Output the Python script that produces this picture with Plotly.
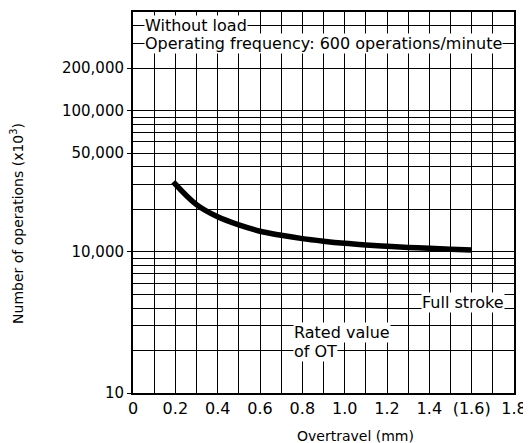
import math
import plotly.graph_objects as go

# Curve data
overtravel = [0.19, 0.3, 0.4, 0.5, 0.6, 0.7, 0.8, 0.9, 1.0, 1.1, 1.2, 1.3, 1.4, 1.5, 1.6]
operations = [31300, 21600, 17700, 15500, 14000, 13100, 12400, 11900, 11500, 11200,
              10950, 10750, 10600, 10450, 10300]

# Axis ticks
x_tickvals = [0, 0.2, 0.4, 0.6, 0.8, 1.0, 1.2, 1.4, 1.6, 1.8]
x_ticktext = ["0", "0.2", "0.4", "0.6", "0.8", "1.0", "1.2", "1.4", "(1.6)", "1.8"]
x_gridvals = [i / 10 for i in range(0, 19)]

y_tickvals = [1000, 10000, 50000, 100000, 200000]
y_ticktext = ["10", "10,000", "50,000", "100,000", "200,000"]
y_gridvals = ([m * 1000 for m in range(1, 10)] + [m * 10000 for m in range(1, 10)]
              + [m * 100000 for m in range(1, 6)])

FONT = "DejaVu Sans"
L = math.log10

fig = go.Figure()
fig.add_trace(go.Scatter(
    x=overtravel, y=operations, mode="lines",
    line=dict(color="black", width=5.5, shape="spline", smoothing=1.0),
    showlegend=False, hoverinfo="skip",
))

grid = dict(color="black", width=1.3)


def label(text, x, y, anchor):
    return dict(text=text, x=x, y=L(y), xref="x", yref="y",
                xanchor=anchor, yanchor="middle", showarrow=False,
                bgcolor="white", borderpad=0, font=dict(size=16, family=FONT))


fig.update_layout(
    width=523, height=435,
    margin=dict(l=125, r=17, t=2, b=50),
    paper_bgcolor="white", plot_bgcolor="white",
    font=dict(family=FONT, color="black"),
    xaxis=dict(
        range=[0, 1.8], tickmode="array", tickvals=x_tickvals, ticktext=x_ticktext,
        tickfont=dict(size=16, family=FONT, color="black"),
        showgrid=False, zeroline=False,
        showline=True, linecolor="black", linewidth=2, mirror=True,
        ticks="", ticklabelstandoff=0,
        minor=dict(tickmode="array", tickvals=x_gridvals, showgrid=True,
                   gridcolor=grid["color"], gridwidth=grid["width"], ticks=""),
    ),
    yaxis=dict(
        type="log", range=[3, 5.69897],
        tickmode="array", tickvals=y_tickvals, ticktext=y_ticktext,
        tickfont=dict(size=15, family=FONT, color="black"),
        showgrid=True, gridcolor="black", gridwidth=1.3, zeroline=False,
        showline=True, linecolor="black", linewidth=2, mirror=True,
        ticks="outside", ticklen=4, tickcolor="black", tickwidth=1.3,
        minor=dict(tickmode="array", tickvals=y_gridvals, showgrid=True,
                   gridcolor=grid["color"], gridwidth=grid["width"], ticks=""),
    ),
    annotations=[
        label("Without load", 0.05, 400000, "left"),
        label("Operating frequency: 600 operations/minute", 0.05, 300000, "left"),
        label("Full stroke", 1.757, 4400, "right"),
        label("Rated value", 0.756, 2667, "left"),
        label("of OT", 0.756, 1960, "left"),
        dict(text="Overtravel (mm)", x=(355 - 133) / 381, y=-43 / 383,
             xref="paper", yref="paper", xanchor="center", yanchor="middle",
             showarrow=False, font=dict(size=14, family=FONT)),
        dict(text="Number of operations (x10<sup>3</sup>)", x=(17 - 133) / 381,
             y=(393 - 223) / 383, xref="paper", yref="paper", xanchor="center",
             yanchor="middle", textangle=-90, showarrow=False,
             font=dict(size=14, family=FONT)),
    ],
)

fig.write_html("out.html")
